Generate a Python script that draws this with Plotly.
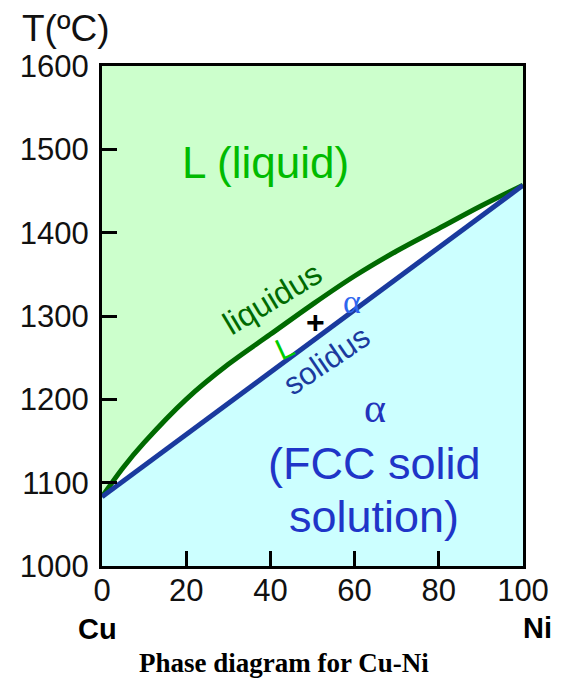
import plotly.graph_objects as go

# ---- data ----
liq_x = [0, 5, 10, 20, 30, 40, 50, 60, 70, 80, 90, 100]
liq_T = [1083, 1118, 1148, 1200, 1242, 1278, 1314, 1348, 1378, 1405, 1432, 1457]
sol_x = [0, 100]
sol_T = [1083, 1457]
x_ticks = [0, 20, 40, 60, 80, 100]
y_ticks = [1000, 1100, 1200, 1300, 1400, 1500, 1600]
x_range = [0, 100]
y_range = [1000, 1600]

W, H = 561, 681
L, R, T, B = 102, 33, 66, 115
pw, ph = W - L - R, H - T - B

def px(x):
    return (x - L) / pw

def py(y):
    return (H - B - y) / ph

fig = go.Figure()
# white band between liquidus and solidus
fig.add_trace(go.Scatter(x=liq_x, y=liq_T, mode="lines", line=dict(width=0, shape="spline"),
                         fill="tozeroy", fillcolor="#FFFFFF", hoverinfo="skip"))
# cyan alpha region below solidus
fig.add_trace(go.Scatter(x=sol_x, y=sol_T, mode="lines", line=dict(width=0),
                         fill="tozeroy", fillcolor="#CCFFFF", hoverinfo="skip"))
# curves
fig.add_trace(go.Scatter(x=liq_x, y=liq_T, mode="lines",
                         line=dict(color="#006A00", width=5, shape="spline")))
fig.add_trace(go.Scatter(x=sol_x, y=sol_T, mode="lines",
                         line=dict(color="#1A3A9E", width=5)))

def ann(text, x, y, size, color, angle=0, family="Liberation Sans"):
    fig.add_annotation(text=text, x=px(x), y=py(y), xref="paper", yref="paper",
                       showarrow=False, textangle=angle, xanchor="center", yanchor="middle",
                       font=dict(size=size, color=color, family=family))

ann("L (liquid)", 267, 163, 44, "#00BB00")
ann("liquidus", 275, 298, 32, "#006A00", angle=-31)
ann("L", 287, 347, 30, "#00CC00", angle=-25)
ann("<b>+</b>", 318, 322, 32, "#000000")
ann("α", 355, 301, 34, "#2F66EE", family="Liberation Serif")
ann("solidus", 329, 360, 31, "#1A3A9E", angle=-34)
ann("α", 378, 408, 42, "#2233BB", family="Liberation Serif")
ann("(FCC solid", 378, 463, 45, "#1F35C8")
ann("solution)", 377, 516, 45, "#1F35C8")
ann("T(ºC)", 65, 29, 37, "#111111")
ann("<b>Cu</b>", 97, 629, 29, "#000000")
ann("<b>Ni</b>", 543, 628, 29, "#000000")
ann("<b>Phase diagram for Cu-Ni</b>", 286, 663, 27, "#000000", family="Liberation Serif")

axis_common = dict(showline=True, mirror=True, linewidth=3, linecolor="#000000",
                   ticks="inside", ticklen=15, tickwidth=3, tickcolor="#000000",
                   showgrid=False, zeroline=False,
                   tickfont=dict(family="Liberation Sans", size=31, color="#111111"))

fig.update_layout(
    width=W, height=H,
    margin=dict(l=L, r=R, t=T, b=B),
    paper_bgcolor="#FFFFFF",
    plot_bgcolor="#CCFFCC",
    showlegend=False,
    xaxis=dict(range=x_range, tickvals=x_ticks, ticktext=[str(v) for v in x_ticks],
               ticklabelstandoff=-5, **axis_common),
    yaxis=dict(range=y_range, tickvals=y_ticks, ticktext=[str(v) for v in y_ticks],
               ticklabelstandoff=4, **axis_common),
)

fig.write_html("out.html")
